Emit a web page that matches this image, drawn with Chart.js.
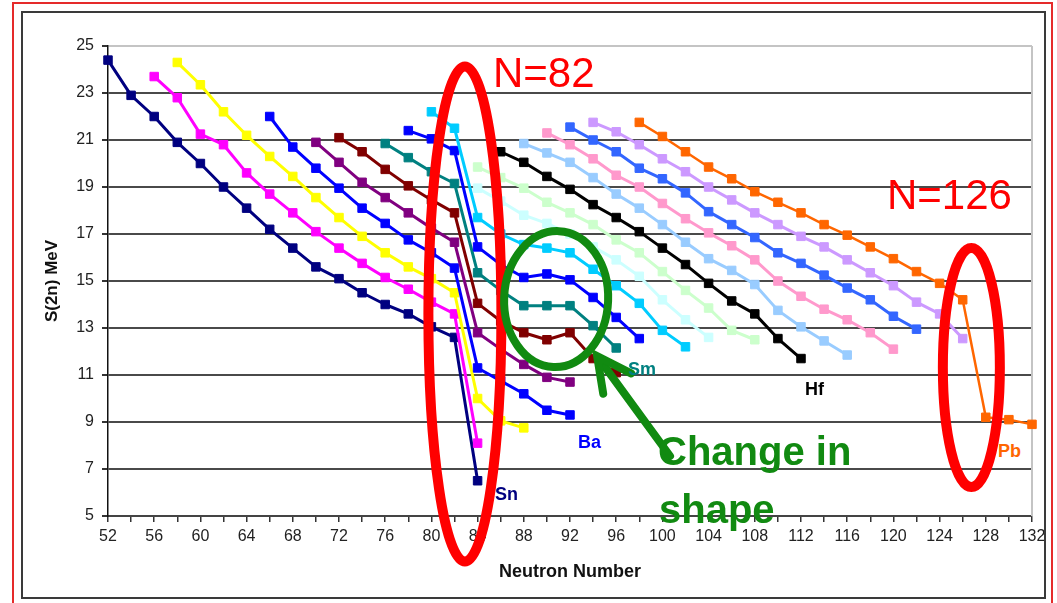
<!DOCTYPE html>
<html>
<head>
<meta charset="utf-8">
<script src="https://cdn.jsdelivr.net/npm/chart.js@4.4.1/dist/chart.umd.min.js"></script>
<style>
html,body{margin:0;padding:0;background:#fff;}
#wrap{position:relative;width:1057px;height:603px;overflow:hidden;background:#fff;}
#c{position:absolute;left:0;top:0;z-index:2;}
.t{position:absolute;white-space:nowrap;font-family:'Liberation Sans',Arial,sans-serif;line-height:1;}
.red{color:#ff0000;font-size:42px;z-index:3;}
.grn{color:#118a11;font-size:40px;font-weight:bold;z-index:3;}
.lab{font-size:18px;font-weight:bold;z-index:3;}
#frameRed{position:absolute;left:12px;top:2px;width:1041px;height:700px;border:2px solid #e52a2a;box-sizing:border-box;z-index:4;}
#frameIn{position:absolute;left:21px;top:11px;width:1025px;height:588px;border:2px solid #3a3a3a;box-sizing:border-box;z-index:4;}
</style>
</head>
<body>
<div id="wrap">
  <canvas id="c" width="1057" height="603" style="width:1057px;height:603px;"></canvas>
  <div id="frameRed"></div>
  <div id="frameIn"></div>
  <div class="t red" style="left:493px;top:52px;">N=82</div>
  <div class="t red" style="left:887px;top:174px;">N=126</div>
  <div class="t grn" style="left:658px;top:431px;">Change in</div>
  <div class="t grn" style="left:659px;top:489px;">shape</div>
  <div class="t lab" style="left:495px;top:485px;color:#000080;">Sn</div>
  <div class="t lab" style="left:578px;top:433px;color:#0000ff;">Ba</div>
  <div class="t lab" style="left:628px;top:360px;color:#008080;">Sm</div>
  <div class="t lab" style="left:805px;top:380px;color:#000000;">Hf</div>
  <div class="t lab" style="left:998px;top:442px;color:#ff6600;z-index:1;">Pb</div>
</div>
<script>
// ---------------- data (neutron number, S(2n) in MeV) ----------------
const nSn = [52,54,56,58,60,62,64,66,68,70,72,74,76,78,80,82,84];
const sSn = [24.4,22.9,22.0,20.9,20.0,19.0,18.1,17.2,16.4,15.6,15.1,14.5,14.0,13.6,13.05,12.6,6.5];

const nTe = [56,58,60,62,64,66,68,70,72,74,76,78,80,82,84];
const sTe = [23.7,22.8,21.25,20.8,19.6,18.7,17.9,17.1,16.4,15.75,15.15,14.65,14.1,13.6,8.1];

const nXe = [58,60,62,64,66,68,70,72,74,76,78,80,82,84,86,88];
const sXe = [24.3,23.35,22.2,21.2,20.3,19.45,18.55,17.7,16.9,16.2,15.6,15.1,14.5,10.0,9.05,8.75];

const nBa = [66,68,70,72,74,76,78,80,82,84,86,88,90,92];
const sBa = [22.0,20.7,19.8,18.95,18.1,17.45,16.75,16.2,15.55,11.3,10.75,10.2,9.5,9.3];

const nCe = [70,72,74,76,78,80,82,84,86,88,90,92];
const sCe = [20.9,20.05,19.2,18.55,17.9,17.25,16.65,12.8,12.1,11.45,10.9,10.7];

const nNd = [72,74,76,78,80,82,84,86,88,90,92,94,96];
const sNd = [21.1,20.5,19.75,19.05,18.45,17.9,14.05,13.3,12.8,12.5,12.8,11.7,11.1];

const nSm = [76,78,80,82,84,86,88,90,92,94,96];
const sSm = [20.85,20.25,19.65,19.15,15.35,14.6,13.95,13.95,13.95,13.1,12.15];

const nGd = [78,80,82,84,86,88,90,92,94,96,98];
const sGd = [21.4,21.05,20.55,16.45,15.7,15.15,15.3,15.05,14.3,13.45,12.55];

const nDy = [80,82,84,86,88,90,92,94,96,98,100,102];
const sDy = [22.2,21.5,17.7,17.0,16.55,16.4,16.2,15.5,14.8,14.05,12.9,12.2];

const nEr = [84,86,88,90,92,94,96,98,100,102,104];
const sEr = [18.95,18.4,17.8,17.45,17.0,16.45,15.9,15.2,14.2,13.35,12.6];

const nYb = [84,86,88,90,92,94,96,98,100,102,104,106,108];
const sYb = [19.85,19.4,18.95,18.35,17.9,17.4,16.75,16.2,15.4,14.6,13.85,12.9,12.5];

const nHf = [86,88,90,92,94,96,98,100,102,104,106,108,110,112];
const sHf = [20.5,20.05,19.45,18.9,18.25,17.7,17.1,16.4,15.7,14.9,14.15,13.6,12.55,11.7];

const nW  = [88,90,92,94,96,98,100,102,104,106,108,110,112,114,116];
const sW  = [20.85,20.45,20.05,19.4,18.7,18.1,17.4,16.65,15.95,15.45,14.85,13.75,13.05,12.45,11.85];

const nOs = [90,92,94,96,98,100,102,104,106,108,110,112,114,116,118,120];
const sOs = [21.3,20.8,20.2,19.5,19.0,18.3,17.65,17.05,16.5,15.9,15.0,14.35,13.8,13.35,12.8,12.1];

const nPt = [92,94,96,98,100,102,104,106,108,110,112,114,116,118,120,122];
const sPt = [21.55,21.0,20.5,19.8,19.35,18.75,17.95,17.4,16.85,16.2,15.75,15.25,14.7,14.2,13.5,12.95];

const nHg = [94,96,98,100,102,104,106,108,110,112,114,116,118,120,122,124,126];
const sHg = [21.75,21.35,20.8,20.2,19.65,19.0,18.45,17.9,17.4,16.9,16.45,15.9,15.35,14.8,14.1,13.6,12.55];

const nPb = [98,100,102,104,106,108,110,112,114,116,118,120,122,124,126,128,130,132];
const sPb = [21.75,21.15,20.5,19.85,19.35,18.8,18.35,17.9,17.4,16.95,16.45,15.95,15.4,14.9,14.2,9.2,9.1,8.9];

const elements = ['Sn','Te','Xe','Ba','Ce','Nd','Sm','Gd','Dy','Er','Yb','Hf','W','Os','Pt','Hg','Pb'];
const neutronSets = [nSn,nTe,nXe,nBa,nCe,nNd,nSm,nGd,nDy,nEr,nYb,nHf,nW,nOs,nPt,nHg,nPb];
const s2nSets = [sSn,sTe,sXe,sBa,sCe,sNd,sSm,sGd,sDy,sEr,sYb,sHf,sW,sOs,sPt,sHg,sPb];
const colors = ['#000080','#ff00ff','#ffff00','#0000ff','#800080','#800000','#008080','#0000ff',
                '#00ccff','#ccffff','#ccffcc','#000000','#99ccff','#ff99cc','#3366ff','#cc99ff','#ff6600'];

const xMin = 52, xMax = 132, xStep = 2;
const yMin = 5, yMax = 25, yStep = 2;

// ---------------- chart ----------------
const datasets = elements.map((el, i) => ({
  label: el,
  data: neutronSets[i].map((n, k) => ({x: n, y: s2nSets[i][k]})),
  borderColor: colors[i],
  backgroundColor: colors[i],
  pointBackgroundColor: colors[i],
  pointBorderColor: colors[i],
  borderWidth: el === 'Pb' ? 2.5 : 3,
  pointStyle: 'rect',
  pointRadius: 6,
  pointBorderWidth: 1,
  tension: 0,
  fill: false,
  clip: false,
  order: -i
}));

const green = '#118a11';
const annot = {
  id: 'annot',
  afterDraw(chart) {
    const c = chart.ctx, xs = chart.scales.x, ys = chart.scales.y;
    const px = v => xs.getPixelForValue(v), py = v => ys.getPixelForValue(v);
    c.save();
    // red ellipses
    c.strokeStyle = '#ff0000'; c.lineWidth = 10;
    c.beginPath(); c.ellipse(px(82.9), py(13.6), 36.5, 247.5, 0, 0, Math.PI * 2); c.stroke();
    c.beginPath(); c.ellipse(px(126.75), py(11.32), 28.5, 119.5, 0, 0, Math.PI * 2); c.stroke();
    // green ellipse
    c.strokeStyle = green; c.lineWidth = 8;
    c.beginPath(); c.ellipse(px(90.8), py(14.23), 52, 68, 0.04, 0, Math.PI * 2); c.stroke();
    // arrow
    const tx = px(94.35), ty = py(11.8), ex = 670, ey = 456;
    const ang = Math.atan2(ey - ty, ex - tx), L = 38, d = 0.47;
    c.lineCap = 'round'; c.lineJoin = 'miter';
    c.beginPath(); c.moveTo(tx + 3 * Math.cos(ang), ty + 3 * Math.sin(ang)); c.lineTo(ex, ey); c.stroke();
    c.beginPath();
    c.moveTo(tx + L * Math.cos(ang + d), ty + L * Math.sin(ang + d));
    c.lineTo(tx, ty);
    c.lineTo(tx + L * Math.cos(ang - d), ty + L * Math.sin(ang - d));
    c.stroke();
    c.restore();
  },
  beforeDatasetsDraw(chart) {
    const c = chart.ctx, xs = chart.scales.x, ys = chart.scales.y;
    c.save();
    c.strokeStyle = '#c4c4c4'; c.lineWidth = 2;
    c.beginPath();
    c.moveTo(xs.getPixelForValue(xMax), ys.getPixelForValue(yMax));
    c.lineTo(xs.getPixelForValue(xMax), ys.getPixelForValue(yMin));
    c.stroke();
    c.restore();
  }
};

const tickFont = {family: "'Liberation Sans', Arial, sans-serif", size: 16};
new Chart(document.getElementById('c'), {
  type: 'line',
  data: {datasets},
  options: {
    responsive: false,
    animation: false,
    devicePixelRatio: 1,
    layout: {padding: {left: 0, right: 25, top: 46, bottom: 0}},
    plugins: {legend: {display: false}, tooltip: {enabled: false}},
    elements: {line: {borderJoinStyle: 'round'}},
    scales: {
      x: {
        type: 'linear', min: xMin, max: xMax,
        afterFit: s => { s.height = 87; },
        ticks: {stepSize: xStep, autoSkip: false, maxRotation: 0, padding: 5, color: '#222', font: tickFont,
                callback: v => (v % 4 === 0 ? String(v) : '')},
        grid: {color: 'rgba(0,0,0,0)', tickColor: '#333', tickLength: 6, lineWidth: 1.5, drawOnChartArea: false},
        border: {color: '#444', width: 2},
        title: {display: true, text: 'Neutron Number', color: '#111',
                font: {family: "'Liberation Sans', Arial, sans-serif", size: 18, weight: 'bold'},
                padding: {top: 0, bottom: 20}}
      },
      y: {
        min: yMin, max: yMax,
        afterFit: s => { s.width = 108; },
        ticks: {stepSize: yStep, autoSkip: false, padding: 8, color: '#222', font: tickFont},
        grid: {color: ctx => (ctx.tick && ctx.tick.value === yMax ? '#c4c4c4' : '#4a4a4a'),
               tickColor: '#333', tickLength: 6, lineWidth: 2},
        border: {color: '#111', width: 1.5},
        title: {display: true, text: 'S(2n) MeV', color: '#111',
                font: {family: "'Liberation Sans', Arial, sans-serif", size: 17, weight: 'bold'},
                padding: {top: 42, bottom: 0}}
      }
    }
  },
  plugins: [annot]
});
</script>
</body>
</html>
